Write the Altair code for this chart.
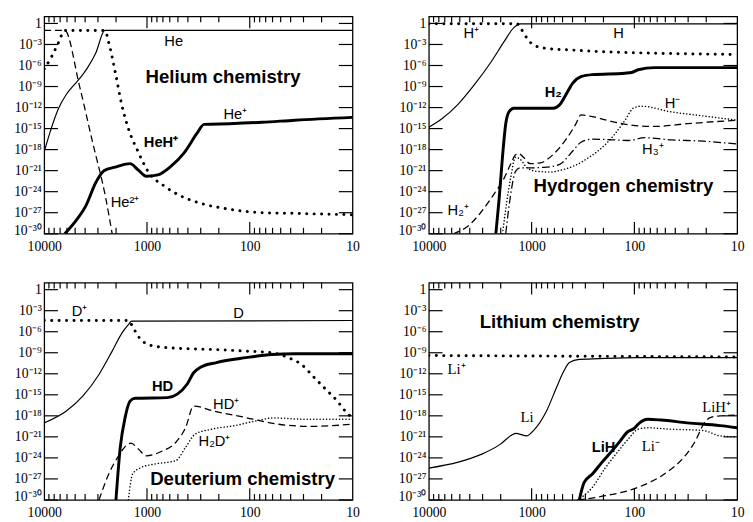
import altair as alt
import pandas as pd

# ---------------- data (log10 redshift, log10 fractional abundance) ----------------
# Helium chemistry
HE_LZ = [4.0, 3.943, 3.863, 3.784, 3.705, 3.625, 3.578, 3.498, 3.41, 1.0]
HE_LY = [-18.3, -15.5, -12.2, -10.1, -8.7, -7.3, -6.3, -4.2, -1.0, -1.0]
HEP_LZ = [4.0, 3.927, 3.863, 3.8, 3.41, 3.371, 3.308, 3.244, 3.181, 3.086, 2.99, 2.832, 2.673, 2.514, 2.197, 1.879, 1.562, 1.0]
HEP_LY = [-6.5, -4.7, -2.8, -1.0, -1.0, -2.8, -7.0, -11.7, -15.0, -18.3, -21.1, -23.2, -24.6, -25.5, -26.5, -27.0, -27.1, -27.3]
HE2P_LZ = [4.0, 3.8, 3.657, 3.53, 3.403, 3.333]
HE2P_LY = [-1.0, -1.0, -8.9, -16.9, -24.8, -30.5]
HEHP_LZ = [3.8, 3.689, 3.594, 3.498, 3.419, 3.308, 3.165, 3.086, 3.006, 2.895, 2.768, 2.641, 2.514, 2.444, 2.197, 1.879, 1.562, 1.0]
HEHP_LY = [-30, -28.1, -26.0, -22.7, -21.0, -20.5, -20.0, -20.9, -21.8, -21.6, -20.4, -18.5, -15.7, -14.4, -14.3, -14.1, -13.8, -13.4]

# Hydrogen chemistry
H_LZ = [4.0, 3.873, 3.714, 3.555, 3.395, 3.268, 3.173, 3.109, 1.0]
H_LY = [-14.8, -13.6, -11.5, -8.7, -5.5, -2.6, -0.6, -0.05, -0.05]
HP_LZ = [4.0, 3.14, 3.109, 3.045, 2.982, 2.855, 2.6, 2.282, 1.964, 1.0]
HP_LY = [-0.05, -0.05, -0.63, -2.1, -3.07, -3.56, -3.8, -4.04, -4.19, -4.43]
H2_LZ = [3.348, 3.316, 3.284, 3.252, 3.22, 3.173, 2.791, 2.727, 2.664, 2.6, 2.52, 2.409, 2.091, 2.027, 1.964, 1.805, 1.0]
H2_LY = [-30, -25.0, -19.1, -14.3, -12.6, -12.1, -12.1, -11.6, -10.1, -8.5, -7.6, -7.3, -7.1, -7.0, -6.6, -6.3, -6.3]
H2P_LZ = [3.761, 3.618, 3.491, 3.364, 3.268, 3.205, 3.157, 3.125, 3.077, 3.014, 2.918, 2.791, 2.664, 2.568, 2.521, 2.409, 2.218, 2.027, 1.805, 1.486, 1.0]
H2P_LY = [-30, -28.9, -26.9, -24.3, -22.1, -20.1, -18.75, -18.56, -19.14, -20.0, -19.9, -18.7, -16.5, -14.3, -13.05, -13.3, -14.0, -14.5, -14.7, -14.3, -13.8]
HM_LZ = [3.284, 3.205, 3.157, 3.109, 3.045, 2.95, 2.823, 2.696, 2.568, 2.441, 2.314, 2.186, 2.091, 2.011, 1.932, 1.646, 1.327, 1.0]
HM_LY = [-30, -22.1, -19.1, -19.4, -20.6, -21.1, -21.2, -20.85, -20.2, -19.1, -17.7, -15.7, -13.8, -12.1, -11.8, -12.6, -13.2, -13.8]
H3P_LZ = [3.252, 3.205, 3.157, 3.109, 3.014, 2.855, 2.727, 2.6, 2.52, 2.409, 2.218, 2.059, 1.9, 1.646, 1.327, 1.0]
H3P_LY = [-30, -24.5, -21.1, -20.6, -20.6, -20.5, -20.1, -18.2, -16.95, -16.5, -16.6, -16.7, -16.3, -16.6, -16.8, -17.2]

# Deuterium chemistry
D_LZ = [4.0, 3.784, 3.625, 3.467, 3.34, 3.244, 3.181, 3.149, 1.0]
D_LY = [-19.0, -17.3, -15.2, -12.1, -8.8, -6.2, -5.0, -4.5, -4.4]
DP_LZ = [4.0, 3.181, 3.133, 3.086, 3.022, 2.927, 2.673, 2.356, 2.038, 1.784, 1.625, 1.498, 1.371, 1.244, 1.149, 1.086, 1.038, 1.0]
DP_LY = [-4.4, -4.4, -5.45, -6.64, -7.58, -8.06, -8.39, -8.53, -8.77, -9.0, -9.7, -10.66, -12.56, -14.45, -15.88, -17.06, -17.77, -18.48]
HD_LZ = [3.302, 3.26, 3.213, 3.165, 3.117, 2.8, 2.705, 2.61, 2.546, 2.483, 2.324, 2.038, 1.784, 1.562, 1.0]
HD_LY = [-30, -22.5, -18.25, -15.9, -15.5, -15.4, -14.9, -13.5, -11.85, -11.1, -10.4, -9.7, -9.25, -9.15, -9.15]
HDP_LZ = [3.467, 3.372, 3.276, 3.181, 3.156, 3.086, 3.006, 2.848, 2.721, 2.625, 2.546, 2.356, 2.038, 1.72, 1.403, 1.0]
HDP_LY = [-30, -26.3, -23.7, -22.0, -21.9, -22.7, -23.7, -23.0, -21.8, -19.7, -16.6, -17.3, -18.25, -19.2, -19.5, -19.2]
H2DP_LZ = [3.181, 3.14, 3.06, 2.935, 2.72, 2.625, 2.53, 2.37, 2.15, 1.93, 1.77, 1.45, 1.0]
H2DP_LY = [-30, -26.3, -25.4, -24.9, -24.4, -22.5, -20.6, -19.9, -19.4, -18.7, -18.3, -18.5, -18.5]

# Lithium chemistry
LIP_LZ = [4.0, 2.5, 1.0]
LIP_LY = [-9.4, -9.5, -9.6]
LI_LZ = [4.0, 3.714, 3.491, 3.3, 3.205, 3.157, 3.045, 2.982, 2.855, 2.759, 2.695, 2.632, 2.536, 2.282, 1.964, 1.0]
LI_LY = [-25.45, -24.6, -23.5, -22.0, -20.85, -20.5, -20.85, -20.1, -17.3, -14.0, -11.85, -10.4, -9.95, -9.8, -9.7, -9.7]
LIH_LZ = [2.536, 2.489, 2.409, 2.314, 2.218, 2.139, 2.075, 1.995, 1.964, 1.868, 1.741, 1.486, 1.168, 1.0]
LIH_LY = [-30, -27.5, -26.3, -24.6, -23.0, -21.6, -20.4, -19.7, -19.2, -18.5, -18.6, -19.0, -19.4, -19.7]
LIM_LZ = [2.55, 2.409, 2.282, 2.155, 2.059, 1.964, 1.868, 1.646, 1.327, 1.168, 1.0]
LIM_LY = [-30, -28.2, -25.4, -23.0, -21.3, -19.9, -19.7, -19.9, -20.1, -20.85, -21.0]
LIHP_LZ = [2.55, 2.282, 1.964, 1.709, 1.518, 1.407, 1.327, 1.264, 1.168, 1.0]
LIHP_LY = [-30, -29.4, -28.2, -26.3, -23.9, -21.6, -19.2, -18.25, -18.0, -17.9]

# tick labels
X_TICKS = [10000, 1000, 100, 10]
Y_EXPS = [0, -3, -6, -9, -12, -15, -18, -21, -24, -27, -30]
X_MINOR_MULT = [2, 3, 4, 5, 6, 7, 8, 9]
X_MINOR_DEC = [1000, 100, 10]

# ---------------- styles ----------------
W, H = 315, 222
SERIF = "Liberation Serif"
SANS = "Liberation Sans"

STY = {
    "thin": dict(strokeWidth=1.2),
    "thick": dict(strokeWidth=3.0),
    "bigdot": dict(strokeWidth=3.0, strokeDash=[0.1, 7.5], strokeCap="round"),
    "smalldot": dict(strokeWidth=1.5, strokeDash=[0.1, 3.2], strokeCap="round"),
    "dash": dict(strokeWidth=1.3, strokeDash=[7, 4]),
    "dashdot": dict(strokeWidth=1.3, strokeDash=[8, 3, 1.5, 3]),
}

SUP = str.maketrans("-0123456789", "⁻⁰¹²³⁴⁵⁶⁷⁸⁹")


def ylab(e):
    return "1" if e == 0 else "10" + str(e).translate(SUP)


label_expr = " : ".join(
    f"round(log(datum.value)/LN10) == {e} ? '{ylab(e)}'" for e in Y_EXPS
) + " : ''"

XS = alt.Scale(type="log", domain=[10, 10000], reverse=True)
YS = alt.Scale(type="log", domain=[1e-30, 10])
XA = alt.Axis(values=X_TICKS, format="d", ticks=False, domain=False, grid=False,
              labelFont=SERIF, labelFontSize=14, labelColor="black", labelPadding=6,
              labelFlush=False, labelOverlap=False, title=None, minExtent=20, maxExtent=20)
YA = alt.Axis(values=[10.0 ** e for e in Y_EXPS], labelExpr=label_expr, ticks=False,
              domain=False, grid=False, labelFont=SERIF, labelFontSize=14,
              labelColor="black", labelPadding=3, labelOverlap=False, labelFlush=False,
              labelBaseline="middle",
              labelOffset={"condition": {"test": "datum.value < 1e-29", "value": -3}, "value": 0},
              title=None, minExtent=34, maxExtent=34)


def X(field="z"):
    return alt.X(f"{field}:Q", scale=XS, axis=XA)


def Y(field="a"):
    return alt.Y(f"{field}:Q", scale=YS, axis=YA)


def tick_layers():
    major = pd.DataFrame({"z": [1000, 100]})
    minor = pd.DataFrame({"z": [m * d for d in X_MINOR_DEC for m in X_MINOR_MULT]})
    yt = pd.DataFrame({"a": [10.0 ** e for e in Y_EXPS]})
    base = dict(color="black", strokeWidth=1.2)
    layers = []
    for df, ln in ((major, 12), (minor, 6)):
        layers.append(alt.Chart(df).mark_rule(**base).encode(
            x=X(), y=alt.value(H), y2=alt.value(H - ln)))
        layers.append(alt.Chart(df).mark_rule(**base).encode(
            x=X(), y=alt.value(0), y2=alt.value(ln)))
    layers.append(alt.Chart(yt).mark_rule(**base).encode(
        y=Y(), x=alt.value(0), x2=alt.value(14)))
    layers.append(alt.Chart(yt).mark_rule(**base).encode(
        y=Y(), x=alt.value(W), x2=alt.value(W - 14)))
    return layers


def line(lz, ly, style):
    df = pd.DataFrame({"z": [10 ** v for v in lz], "a": [10 ** v for v in ly]})
    return alt.Chart(df).mark_line(color="black", clip=True, interpolate="monotone",
                                   **STY[style]).encode(x=X(), y=Y(), order=alt.Order("i:Q")) \
        .transform_window(i="row_number()")


def text(label, lz, ly, font=SANS, size=15, weight="normal"):
    df = pd.DataFrame({"z": [10 ** lz], "a": [10 ** ly], "t": [label]})
    return alt.Chart(df).mark_text(font=font, fontSize=size, fontWeight=weight, color="black",
                                   align="center", baseline="middle").encode(
        x=X(), y=Y(), text="t:N")


def panel(lines, texts):
    layers = tick_layers() + [line(*l) for l in lines] + [text(*t[:3], **t[3]) for t in texts]
    return alt.layer(*layers).properties(width=W, height=H)


p_he = panel(
    [(HE_LZ, HE_LY, "thin"), (HEP_LZ, HEP_LY, "bigdot"), (HE2P_LZ, HE2P_LY, "dash"),
     (HEHP_LZ, HEHP_LY, "thick")],
    [("He", 2.74, -2.5, {}),
     ("Helium chemistry", 2.26, -7.7, dict(size=19, weight="bold")),
     ("He⁺", 2.14, -12.9, {}),
     ("HeH⁺", 2.864, -16.9, dict(weight="bold")),
     ("He²⁺", 3.213, -25.5, {})])

p_h = panel(
    [(H_LZ, H_LY, "thin"), (HP_LZ, HP_LY, "bigdot"), (H2_LZ, H2_LY, "thick"),
     (H2P_LZ, H2P_LY, "dash"), (HM_LZ, HM_LY, "smalldot"), (H3P_LZ, H3P_LY, "dashdot")],
    [("H", 2.155, -1.4, {}), ("H⁺", 3.586, -1.4, {}),
     ("H₂", 2.79, -9.8, dict(weight="bold")),
     ("H⁻", 1.63, -11.3, {}), ("H₃⁺", 1.82, -17.9, {}), ("H₂⁺", 3.714, -26.7, {}),
     ("Hydrogen chemistry", 2.107, -23.2, dict(size=19, weight="bold"))])

p_d = panel(
    [(D_LZ, D_LY, "thin"), (DP_LZ, DP_LY, "bigdot"), (HD_LZ, HD_LY, "thick"),
     (HDP_LZ, HDP_LY, "dash"), (H2DP_LZ, H2DP_LY, "smalldot")],
    [("D⁺", 3.657, -3.1, {}), ("D", 2.108, -3.3, {}),
     ("HD", 2.848, -13.7, dict(weight="bold")),
     ("HD⁺", 2.229, -16.3, {}), ("H₂D⁺", 2.343, -21.6, {}),
     ("Deuterium chemistry", 2.07, -27.0, dict(size=19, weight="bold"))])

p_li = panel(
    [(LIP_LZ, LIP_LY, "bigdot"), (LI_LZ, LI_LY, "thin"), (LIH_LZ, LIH_LY, "thick"),
     (LIM_LZ, LIM_LY, "smalldot"), (LIHP_LZ, LIHP_LY, "dash")],
    [("Lithium chemistry", 2.727, -4.7, dict(size=19, weight="bold")),
     ("Li⁺", 3.73, -11.4, dict(font=SERIF)), ("Li", 3.045, -18.25, dict(font=SERIF)),
     ("LiH", 2.3, -22.5, dict(weight="bold")), ("Li⁻", 1.84, -22.3, dict(font=SERIF)),
     ("LiH⁺", 1.2, -16.8, dict(font=SERIF))])

chart = alt.vconcat(
    alt.hconcat(p_he, p_h, spacing=35),
    alt.hconcat(p_d, p_li, spacing=35),
    spacing=27,
).properties(
    padding={"left": 2, "top": 1, "right": 0, "bottom": 0}, background="white"
).configure_view(stroke="black", strokeWidth=1.3)

chart.save("out.html", embed_options={"renderer": "svg", "actions": False})
